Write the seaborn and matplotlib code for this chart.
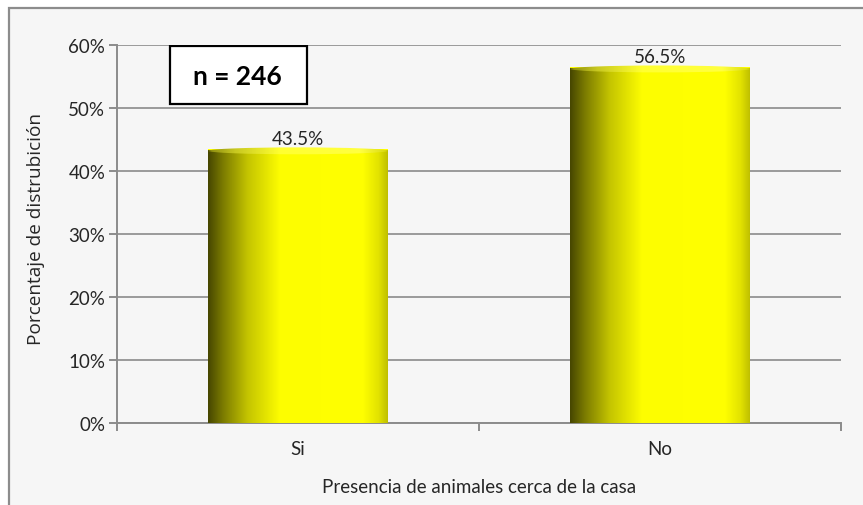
import numpy as np
import pandas as pd
import seaborn as sns
import matplotlib.pyplot as plt
from matplotlib.colors import LinearSegmentedColormap
from matplotlib.patches import Rectangle, Ellipse

categories = ["Si", "No"]
values = [43.5, 56.5]
labels = ["43.5%", "56.5%"]
yticks = [0, 10, 20, 30, 40, 50, 60]
n_text = "n = 246"

sns.set_theme(style="white")
plt.rcParams['font.family'] = ['Lato', 'DejaVu Sans']
FS = 13.5
TXT = "#262626"

fig = plt.figure(figsize=(8.63, 5.06), dpi=100, facecolor="white")
# chart area background + border (Excel style)
fig.patches.append(Rectangle((9 / 863, -0.05), 1.1, 1 - 9 / 506 + 0.05,
                             transform=fig.transFigure, facecolor="#f6f6f6",
                             edgecolor="#8c8c8c", linewidth=1.6, zorder=-10))

ax = fig.add_axes([117 / 863, 1 - 424 / 506, (841 - 117) / 863, (424 - 46) / 506])
ax.set_facecolor("none")

df = pd.DataFrame({"cat": categories, "val": values})
sns.barplot(data=df, x="cat", y="val", color="#ffff00", width=0.495, ax=ax,
            saturation=1, zorder=3)

# cylinder-like shading
cmap = LinearSegmentedColormap.from_list("cyl", [
    (0.0, "#474700"), (0.08, "#7a7a00"), (0.22, "#c4c400"),
    (0.40, "#fdfd00"), (0.86, "#ffff00"), (0.95, "#e2e200"), (1.0, "#c0c000")])
cap_cmap = LinearSegmentedColormap.from_list("cap", [
    (0.0, "#8a8a10"), (0.15, "#c8c820"), (0.4, "#ffff30"),
    (0.85, "#ffff40"), (1.0, "#d8d810")])
grad = np.linspace(0, 1, 256).reshape(1, -1)
bars = list(ax.patches)
for p in bars:
    x0, y0 = p.get_x(), p.get_y()
    w, h = p.get_width(), p.get_height()
    p.set_edgecolor("none")
    im = ax.imshow(grad, cmap=cmap, extent=[x0, x0 + w, y0, y0 + h - 0.3],
                   aspect="auto", zorder=4)
    im.set_clip_path(p)
    cap = Ellipse((x0 + w / 2, y0 + h - 0.3), w, 1.1, facecolor="none",
                  edgecolor="none", zorder=5)
    ax.add_patch(cap)
    im2 = ax.imshow(grad, cmap=cap_cmap,
                    extent=[x0, x0 + w, y0 + h - 1.0, y0 + h + 0.4],
                    aspect="auto", zorder=5)
    im2.set_clip_path(cap)

for i, (v, lab) in enumerate(zip(values, labels)):
    ax.text(i, v + 0.75, lab, ha="center", va="baseline", fontsize=FS,
            color=TXT, zorder=6)

ax.set_xlim(-0.5, 1.5)
ax.set_ylim(0, 60)
ax.set_yticks(yticks)
ax.set_yticklabels([f"{t}%" for t in yticks], fontsize=FS, color=TXT)
ax.yaxis.grid(True, color="#9a9a9a", linewidth=1.4, zorder=1)
ax.set_axisbelow(True)

ax.set_xticks([-0.5, 0.5, 1.5], minor=False)
ax.set_xticklabels([])
ax.set_xticks([0, 1], minor=True)
ax.set_xticklabels(categories, minor=True, fontsize=FS, color=TXT)
ax.tick_params(axis="x", which="major", direction="out", length=5.5, width=1.4,
               color="#8c8c8c", bottom=True)
ax.tick_params(axis="x", which="minor", length=0, pad=12, bottom=True)
ax.tick_params(axis="y", direction="out", length=5.5, width=1.4, color="#8c8c8c",
               left=True, pad=3)

for s in ["top", "right"]:
    ax.spines[s].set_visible(False)
for s in ["left", "bottom"]:
    ax.spines[s].set_color("#8c8c8c")
    ax.spines[s].set_linewidth(1.4)

ax.set_xlabel("Presencia de animales cerca de la casa", fontsize=FS, color=TXT)
ax.xaxis.set_label_coords(0.5, -0.167)
ax.xaxis.label.set_va("center")
ax.set_ylabel("Porcentaje de distrubición", fontsize=13.7, color=TXT,
              family=["Open Sans", "DejaVu Sans"])
ax.yaxis.set_label_coords(-0.112, 0.516)
ax.yaxis.label.set_va("center")

# n box
ax.add_patch(Rectangle((0.073, 0.845), 0.19, 0.152, transform=ax.transAxes,
                       facecolor="white", edgecolor="black", linewidth=1.6,
                       zorder=7))
ax.text(0.166, 0.919, n_text, transform=ax.transAxes, ha="center", va="center",
        fontsize=19, fontweight="bold", color="black", zorder=8)

fig.savefig("out.png", dpi=100, facecolor="white")
